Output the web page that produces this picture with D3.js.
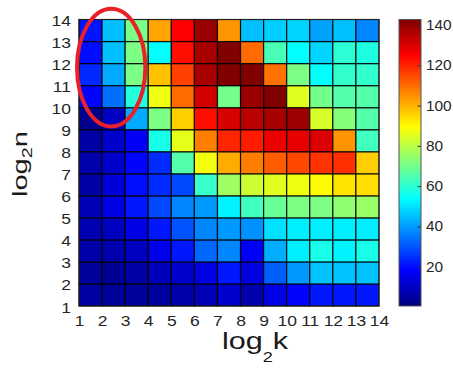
<!DOCTYPE html>
<html>
<head>
<meta charset="utf-8">
<script src="https://cdn.jsdelivr.net/npm/d3@7"></script>
<style>
  html, body { margin: 0; padding: 0; background: #fff; }
  svg { display: block; font-family: "Liberation Sans", Arial, Helvetica, sans-serif; }
</style>
</head>
<body>
<svg id="chart" width="453" height="370"></svg>
<script>
// Grid coordinates: log2 k along x, log2 n along y
const kTicks = d3.range(1, 15);
const nTicks = d3.range(1, 15);
const colorTicks = [20, 40, 60, 80, 100, 120, 140];
const colorDomain = [0.5, 142.7];

// One row per n (n = 1 at the bottom), each row holds k = 1 .. 13
const n1  = [5.0, 4.2, 4.2, 4.9, 6.2, 8.3, 11.2, 6.9, 14.6, 18.8, 21.5, 21.5, 21.5];
const n2  = [4.2, 3.4, 5.6, 9.0, 11.2, 14.6, 21.5, 13.9, 31.4, 39.7, 45.3, 45.3, 45.3];
const n3  = [6.2, 6.9, 9.7, 15.3, 21.5, 32.7, 36.9, 17.4, 42.4, 51.6, 57.1, 52.2, 57.1];
const n4  = [7.6, 9.7, 14.6, 21.5, 30.0, 36.9, 39.7, 38.3, 49.5, 51.6, 51.6, 51.6, 51.6];
const n5  = [8.3, 14.6, 21.5, 28.5, 36.9, 39.7, 52.2, 62.7, 68.2, 71.1, 71.1, 73.8, 75.2];
const n6  = [5.6, 13.2, 20.2, 24.4, 28.5, 61.3, 76.0, 82.2, 85.0, 87.1, 89.9, 93.3, 94.0];
const n7  = [6.9, 11.2, 18.8, 24.4, 65.5, 87.7, 101.0, 107.3, 112.1, 115.0, 117.8, 118.4, 96.2];
const n8  = [5.6, 11.2, 17.4, 57.1, 85.7, 107.3, 119.8, 121.3, 127.6, 128.2, 129.6, 104.5, 62.7];
const n9  = [2.7, 9.7, 42.0, 71.0, 96.0, 123.0, 130.3, 134.5, 137.3, 138.6, 83.6, 72.4, 65.5];
const n10 = [18.8, 34.0, 58.5, 87.0, 110.0, 131.0, 70.0, 139.0, 142.6, 85.0, 70.0, 65.5, 65.5];
const n11 = [24.0, 42.0, 71.0, 98.0, 116.0, 137.0, 142.6, 142.6, 109.0, 71.0, 54.0, 61.0, 61.0];
const n12 = [20.0, 45.0, 71.0, 54.0, 123.0, 137.0, 142.6, 110.0, 64.0, 54.0, 48.0, 60.0, 58.0];
const n13 = [21.0, 45.0, 71.0, 102.0, 125.0, 139.0, 104.0, 45.0, 47.0, 48.0, 41.0, 45.0, 37.0];

// Highlight ring in grid units: centre (k, n) and radii
const ringCentre = [2.395, 11.82];
const ringRadii = [1.48, 2.67];

const rows = [n1, n2, n3, n4, n5, n6, n7, n8, n9, n10, n11, n12, n13];
const cells = rows.flatMap((row, i) => row.map((v, j) => ({ k: j + 1, n: i + 1, v })));

const svg = d3.select("#chart");
const plot = { left: 79, right: 379, top: 19.5, bottom: 306 };
const bar = { left: 399, right: 421 };

const x = d3.scaleLinear().domain([1, 14]).range([plot.left, plot.right]);
const y = d3.scaleLinear().domain([1, 14]).range([plot.bottom, plot.top]);

// MATLAB-style jet colour map
const clamp = v => Math.max(0, Math.min(1, v));
function jet(t) {
  const r = clamp(1.5 - Math.abs(4 * t - 3));
  const g = clamp(1.5 - Math.abs(4 * t - 2));
  const b = clamp(1.5 - Math.abs(4 * t - 1));
  return d3.rgb(r * 255, g * 255, b * 255).formatHex();
}
const color = d3.scaleSequential(jet).domain(colorDomain);

// Heat map cells
svg.append("g")
  .selectAll("rect")
  .data(cells)
  .join("rect")
  .attr("x", d => x(d.k))
  .attr("y", d => y(d.n + 1))
  .attr("width", d => x(d.k + 1) - x(d.k))
  .attr("height", d => y(d.n) - y(d.n + 1))
  .attr("fill", d => color(d.v))
  .attr("stroke", "#000")
  .attr("stroke-opacity", 0.85)
  .attr("stroke-width", 1.2);

// Axes
const tickColor = "#262626";
const xAxis = svg.append("g")
  .attr("transform", `translate(0,${plot.bottom})`)
  .call(d3.axisBottom(x).tickValues(kTicks).tickFormat(d3.format("d")).tickSize(0).tickPadding(10));
const yAxis = svg.append("g")
  .attr("transform", `translate(${plot.left},0)`)
  .call(d3.axisLeft(y).tickValues(nTicks).tickFormat(d3.format("d")).tickSize(0).tickPadding(6.4));

[xAxis, yAxis].forEach(g => {
  g.select(".domain").remove();
  g.selectAll("text")
    .attr("font-family", "Liberation Sans, Arial, sans-serif")
    .attr("font-size", 14)
    .attr("fill", tickColor)
    .attr("transform", "scale(1.25,1)");
});
yAxis.selectAll("text").attr("dy", "0.43em");

// Frame around the grid
svg.append("rect")
  .attr("x", plot.left).attr("y", plot.top)
  .attr("width", plot.right - plot.left)
  .attr("height", plot.bottom - plot.top)
  .attr("fill", "none")
  .attr("stroke", "#222")
  .attr("stroke-width", 1);

// Colour bar
const cb = d3.scaleLinear().domain(colorDomain).range([plot.bottom, plot.top]);
const defs = svg.append("defs");
const grad = defs.append("linearGradient")
  .attr("id", "jetbar")
  .attr("x1", 0).attr("y1", 1).attr("x2", 0).attr("y2", 0);
grad.selectAll("stop")
  .data(d3.range(0, 1.0001, 1 / 64))
  .join("stop")
  .attr("offset", t => t)
  .attr("stop-color", t => jet(t));

svg.append("rect")
  .attr("x", bar.left).attr("y", plot.top)
  .attr("width", bar.right - bar.left)
  .attr("height", plot.bottom - plot.top)
  .attr("fill", "url(#jetbar)")
  .attr("stroke", "#555")
  .attr("stroke-width", 1);

const cbAxis = svg.append("g")
  .attr("transform", `translate(${bar.right},0)`)
  .call(d3.axisRight(cb).tickValues(colorTicks).tickSizeInner(-3.5).tickSizeOuter(0).tickPadding(4.5));
cbAxis.select(".domain").remove();
cbAxis.selectAll("line").attr("stroke", "#333");
cbAxis.selectAll("text")
  .attr("font-family", "Liberation Sans, Arial, sans-serif")
  .attr("font-size", 14)
  .attr("fill", tickColor)
  .attr("transform", "scale(1.1,1)");

// Axis titles with TeX-like subscripts
const xTitle = svg.append("text")
  .attr("text-anchor", "middle")
  .attr("font-size", 23.5)
  .attr("fill", "#1a1a1a")
  .attr("transform", "translate(255,349) scale(1.3,1)");
xTitle.append("tspan").text("log");
xTitle.append("tspan").attr("font-size", 14).attr("dy", 13).text("2");
xTitle.append("tspan").attr("dy", -13).text("k");

const yTitle = svg.append("text")
  .attr("text-anchor", "middle")
  .attr("font-size", 20.5)
  .attr("fill", "#1a1a1a")
  .attr("transform", "translate(26.7,164) rotate(-90) scale(1.42,1)");
yTitle.append("tspan").text("log");
yTitle.append("tspan").attr("font-size", 14).attr("dy", 5.6).text("2");
yTitle.append("tspan").attr("dy", -5.6).text("n");

// Highlight ring
svg.append("ellipse")
  .attr("cx", x(ringCentre[0]))
  .attr("cy", y(ringCentre[1]))
  .attr("rx", x(ringCentre[0] + ringRadii[0]) - x(ringCentre[0]))
  .attr("ry", y(ringCentre[1] - ringRadii[1]) - y(ringCentre[1]))
  .attr("fill", "none")
  .attr("stroke", "#e8202a")
  .attr("stroke-width", 4);
</script>
</body>
</html>
